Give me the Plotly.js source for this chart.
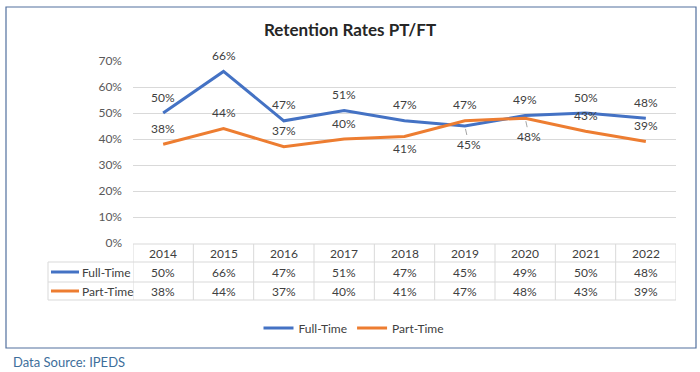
<!DOCTYPE html>
<html><head><meta charset="utf-8">
<script src="https://cdn.plot.ly/plotly-3.0.1.min.js"></script>
<style>html,body{margin:0;padding:0;background:#fff}#chart{width:700px;height:372px}</style>
</head><body><div id="chart"></div>
<script>
// ---- data ----
const years = ['2014','2015','2016','2017','2018','2019','2020','2021','2022'];
const fullTime = [50,66,47,51,47,45,49,50,48];
const partTime = [38,44,37,40,41,47,48,43,39];
const seriesNames = ['Full-Time','Part-Time'];
const yTicks = [0,10,20,30,40,50,60,70];
const chartTitle = 'Retention Rates PT/FT';
const sourceNote = 'Data Source: IPEDS';

// ---- style ----
const colors = ['#4472C4','#ED7D31'];
const FONT = 'Lato, "Open Sans", sans-serif';
const TXT = '#404040';
const GRID = '#D9D9D9';
const W=700,H=372,L=133,R=676,T=61,B=243;
const pX = x => (x-L)/(R-L);
const pY = y => (B-y)/(B-T);
// label placement: 'a' above, 'b' below, 'bl' below with leader line
const place = [
  ['a','a','a','a','a','bl','a','a','a'],
  ['a','a','a','a','b','a','bl','a','a']
];

const series = [fullTime, partTime];
const traces = series.map((vals,s)=>({
  type:'scatter', mode:'lines', x:years, y:vals, name:seriesNames[s],
  line:{color:colors[s], width:3}, hoverinfo:'skip'
}));

const annotations = [];
const shapes = [];
const tf = {family:FONT,size:12,color:TXT};
// data labels (x as category index on the category axis)
series.forEach((vals,s)=>{
  vals.forEach((v,i)=>{
    const p = place[s][i];
    const a = {x:years.indexOf(years[i]), y:v, xref:'x', yref:'y', text:v+'%',
      font:tf, showarrow:false, xanchor:'center', yanchor:'middle'};
    if(p==='a'){ a.yshift=16; }
    else if(p==='b'){ a.yshift=-12; }
    else { a.showarrow=true; a.arrowhead=0; a.arrowwidth=1; a.arrowcolor='#A6A6A6';
           a.ax=4; a.ay=18; a.standoff=3; }
    annotations.push(a);
  });
});

// table
const rowY = [244,262,282,300];
const tableLeft = 48;
const line = {color:GRID,width:1};
shapes.push({type:'line',xref:'paper',yref:'paper',x0:0,x1:1,y0:pY(rowY[0]),y1:pY(rowY[0]),line});
for(let r=1;r<rowY.length;r++){
  shapes.push({type:'line',xref:'paper',yref:'paper',x0:pX(tableLeft),x1:1,y0:pY(rowY[r]),y1:pY(rowY[r]),line});
}
shapes.push({type:'line',xref:'paper',yref:'paper',x0:pX(tableLeft),x1:pX(tableLeft),y0:pY(rowY[1]),y1:pY(rowY[3]),line});
for(let i=0;i<=years.length;i++){
  shapes.push({type:'line',xref:'x',yref:'paper',x0:i-0.5,x1:i-0.5,y0:pY(rowY[0]),y1:pY(rowY[3]),line});
}
years.forEach((yr,i)=>{
  annotations.push({x:i,xref:'x',y:pY((rowY[0]+rowY[1])/2),yref:'paper',yanchor:'middle',text:yr,showarrow:false,font:tf});
  series.forEach((vals,s)=>{
    annotations.push({x:i,xref:'x',y:pY((rowY[s+1]+rowY[s+2])/2),yref:'paper',yanchor:'middle',text:vals[i]+'%',showarrow:false,font:tf});
  });
});
seriesNames.forEach((nm,s)=>{
  const yc = pY((rowY[s+1]+rowY[s+2])/2);
  shapes.push({type:'line',xref:'paper',yref:'paper',x0:pX(51),x1:pX(79),y0:yc,y1:yc,line:{color:colors[s],width:3}});
  annotations.push({x:pX(80),xref:'paper',xanchor:'left',y:yc,yref:'paper',yanchor:'middle',text:nm,showarrow:false,font:tf});
});

// outer border
shapes.push({type:'rect',xref:'paper',yref:'paper',x0:pX(6),x1:pX(696),y0:pY(348),y1:pY(7),
  line:{color:'#52709E',width:1.2},layer:'below'});
// source note
annotations.push({x:pX(11),xref:'paper',xanchor:'left',y:pY(362),yref:'paper',yanchor:'middle',
  text:sourceNote,showarrow:false,font:{family:FONT,size:13,color:'#3D6E9B'}});

const layout = {
  width:W,height:H,margin:{l:L,r:W-R,t:T,b:H-B},
  paper_bgcolor:'#fff',plot_bgcolor:'#fff',
  title:{text:'<b>'+chartTitle+'</b>',xref:'container',x:0.5,xanchor:'center',yref:'container',y:1-30/H,yanchor:'middle',
    font:{family:FONT,size:17,color:'#262626'}},
  xaxis:{type:'category',range:[-0.5,years.length-0.5],showticklabels:false,showgrid:false,zeroline:false,showline:false,fixedrange:true},
  yaxis:{range:[0,70],tickvals:yTicks,ticktext:yTicks.map(v=>v+'%'),showgrid:true,gridcolor:GRID,gridwidth:1,
    zeroline:false,showline:false,ticks:'',ticklabelstandoff:10,
    tickfont:{family:FONT,size:12,color:'#595959'},fixedrange:true},
  showlegend:true,
  legend:{orientation:'h',x:pX(354),xanchor:'center',y:pY(328),yanchor:'middle',
    font:{family:FONT,size:12,color:TXT},itemwidth:30,tracegroupgap:0},
  shapes, annotations
};
Plotly.newPlot('chart',traces,layout,{displayModeBar:false,staticPlot:true});
</script></body></html>
